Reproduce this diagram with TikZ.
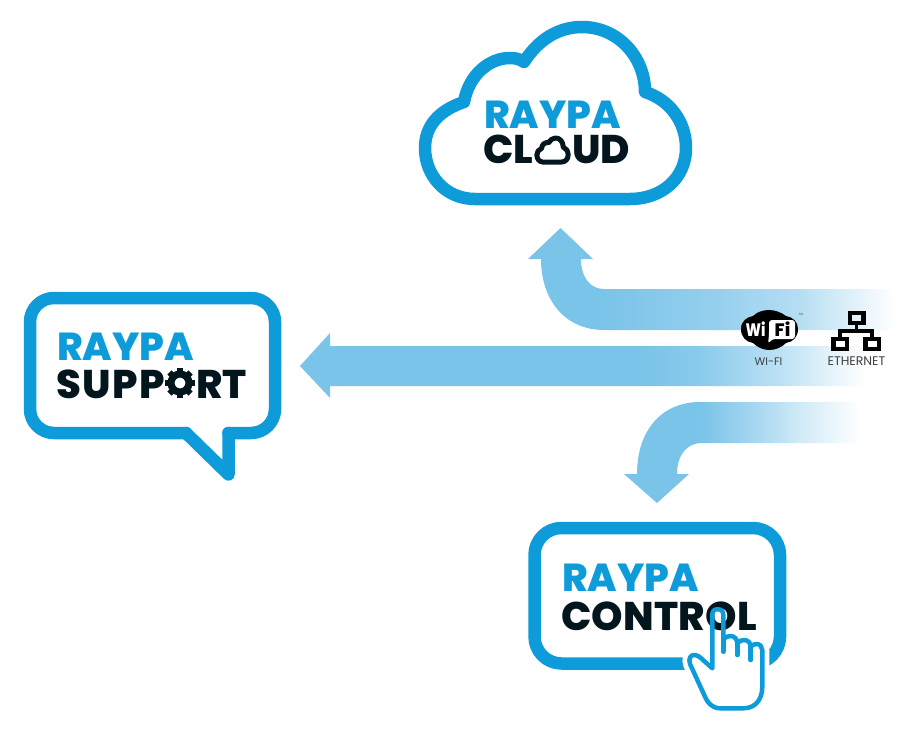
\documentclass[tikz,border=0pt]{standalone}
\usepackage{fontspec}
\setmainfont{Poppins}
\newfontfamily\brandfont{Poppins}[UprightFont=* ExtraBold]
\definecolor{rayblue}{HTML}{0D9BD9}
\definecolor{raydark}{HTML}{03161E}
\definecolor{arrowblue}{HTML}{7AC3E9}
\pgfdeclarehorizontalshading{fadetop}{100bp}{color(0bp)=(arrowblue); color(34.7bp)=(arrowblue); color(50.1bp)=(arrowblue!80!white); color(61.6bp)=(arrowblue!55!white); color(68.3bp)=(arrowblue!25!white); color(74.3bp)=(white); color(100bp)=(white)}
\pgfdeclarehorizontalshading{fademid}{100bp}{color(0bp)=(arrowblue); color(55bp)=(arrowblue); color(60.3bp)=(arrowblue!88!white); color(67.4bp)=(arrowblue!50!white); color(71.8bp)=(arrowblue!20!white); color(75bp)=(white); color(100bp)=(white)}
\pgfdeclarehorizontalshading{fadelow}{100bp}{color(0bp)=(arrowblue); color(41.1bp)=(arrowblue); color(51.7bp)=(arrowblue!70!white); color(62.3bp)=(arrowblue!35!white); color(75bp)=(white); color(100bp)=(white)}
\tikzset{
  brandline/.style={draw=rayblue,line width=12.5pt,line join=round,line cap=round},
  raypa/.style={anchor=base west,text=rayblue,inner sep=0pt,font=\fontsize{39}{44}\brandfont},
  product/.style={anchor=base west,text=raydark,inner sep=0pt,font=\fontsize{40}{44}\brandfont},
  linklabel/.style={text=black!75,inner sep=0pt},
  netbox/.style={draw=black,line width=4.5pt,minimum width=13.5pt,minimum height=10pt,inner sep=0pt,outer sep=0pt},
  handline/.style={draw=rayblue,line width=4.5pt,line join=round,line cap=round}
}
\newcommand{\cloudoutline}{(475,199) .. controls (445,199) and (425,175) .. (425,148)
  .. controls (425,125) and (440,110) .. (464,102)
  .. controls (469,74) and (490,58) .. (510,58)
  .. controls (515,58) and (520,59) .. (524,62)
  .. controls (538,40) and (558,27) .. (582,27)
  .. controls (618,27) and (645,57) .. (645,92)
  .. controls (670,100) and (686,122) .. (686,148)
  .. controls (686,178) and (662,199) .. (630,199) -- cycle}
\newcommand{\handoutline}{(712.3,668.3) -- (712.3,615)
  .. controls (712.3,611) and (714,609.3) .. (717.7,609.3)
  .. controls (721,609.3) and (723.3,611) .. (723.3,615) -- (723.3,639.3)
  .. controls (725,637) and (728,636) .. (730.7,636)
  .. controls (734,636) and (737.3,639) .. (737.3,643.3)
  .. controls (739,641) and (741.5,640) .. (744,640)
  .. controls (748,640) and (750.7,643) .. (750.7,646.7)
  .. controls (752,645) and (754,644) .. (756.7,644)
  .. controls (760,644) and (762.3,647) .. (762.3,650) -- (762.3,686.7)
  .. controls (762.3,696) and (758,708.3) .. (743.3,708.3) -- (720,708.3)
  .. controls (712,708.3) and (707,702) .. (705,696.7) -- (690,664)
  .. controls (688,658) and (691,655) .. (694,655)
  .. controls (698,655) and (701,658) .. (703,660) -- cycle}

\begin{document}
\begin{tikzpicture}[x=1pt,y=-1pt]
\useasboundingbox (0,0) rectangle (901,728);

\coordinate (cloudtip) at (560.5,228);
\coordinate (supporttip) at (300,366);
\coordinate (controltip) at (657,503);
\shade[shading=fadetop] (cloudtip) -- (593,259) -- (581,259) .. controls (581,277) and (590,289) .. (604,289) -- (900,289) -- (900,330) -- (604,330) .. controls (565,330) and (541,300) .. (541,259) -- (528,259) -- cycle;
\shade[shading=fademid] (supporttip) -- (330,333) -- (330,346) -- (866,346) -- (866,386) -- (330,386) -- (330,398) -- cycle;
\shade[shading=fadelow] (controltip) -- (689,474) -- (677,474) .. controls (677,456) and (686,443) .. (702,443) -- (860,443) -- (860,402) -- (700,402) .. controls (662,402) and (637,430) .. (637,474) -- (624,474) -- cycle;

% cloud
\draw[brandline] \cloudoutline;
\node[raypa] (cloudname) at (484,128) {RAYPA};
\node[product] (cloudcl) at (483,163) {CL};
\node[product,anchor=base east] (cloudud) at (630.5,163) {UD};
\begin{scope}[shift={(552.5,150)},xscale=0.12,yscale=0.14,shift={(-555.5,-113)}]
\draw[draw=raydark,line width=5pt,line join=round] \cloudoutline;
\end{scope}

% support
\draw[brandline,rounded corners=24pt] (186,433) -- (30,433) -- (30,298) -- (275,298) -- (275,433) -- (228.5,433);
\draw[brandline] (186,433) -- (228.5,474.5) -- (228.5,433);
\node[raypa] (supportname) at (57,360) {RAYPA};
\node[product] (supportsu) at (56,398.5) {\addfontfeature{LetterSpace=4}SUPP};
\node[product,anchor=base east] (supportrt) at (247,398.5) {RT};
\coordinate (gear) at (180,383);
\draw[raydark,line width=7pt] (gear) circle (9);
\foreach \a in {0,45,...,315}
  \fill[raydark,shift={(gear)},rotate=\a] (-3,-15) rectangle (3,-9);

% control
\node[brandline,rounded corners=27pt,outer sep=0pt,minimum width=245.5pt,minimum height=135.5pt] (controlbox) at (657.25,595.75) {};
\fill[white,draw=white,line width=14pt,line join=round] \handoutline;
\node[raypa] (controlname) at (562,591) {RAYPA};
\node[product] (controlword) at (561,630) {\addfontfeature{LetterSpace=0.7}CONTROL};
\draw[handline] \handoutline;
\draw[handline] (723.3,639.3) -- (723.3,651.7);
\draw[handline] (737.3,643.3) -- (737.3,655);
\draw[handline] (750.7,646.7) -- (750.7,660);

% wifi
\fill[black] (741,329) .. controls (741,321) and (747,317) .. (753,316)
  .. controls (757,312) and (763,310) .. (769,310) .. controls (776,310) and (782,313) .. (786,316)
  .. controls (793,317) and (798,322) .. (798,329) .. controls (798,337) and (793,342) .. (786,343)
  .. controls (782,347) and (776,350) .. (769,350) .. controls (763,350) and (757,347) .. (753,343)
  .. controls (746,342) and (741,337) .. (741,329) -- cycle;
\fill[white,rounded corners=3pt] (769,320) -- (795,320) -- (795,339) -- (772,339) -- (768,344) -- (769,335) -- cycle;
\node[text=white,inner sep=0pt,font=\fontsize{18}{18}\brandfont] (wifiwi) at (755.5,329.5) {\scalebox{0.8}[1]{Wi}};
\node[text=black,inner sep=0pt,font=\fontsize{18}{18}\brandfont] (wififi) at (782.5,329.5) {Fi};
\node[text=black!70,inner sep=0pt,font=\fontsize{3}{3}\selectfont] (wifimark) at (801,314) {TM};
\node[linklabel,font=\fontsize{11}{13}\selectfont] (wifilabel) at (768.5,362) {WI-FI};

% ethernet
\coordinate (netbus) at (856.5,331);
\node[netbox] (nettop) at (856.5,318) {};
\node[netbox] (netleft) at (840,344) {};
\node[netbox] (netright) at (872,344) {};
\draw[black,line width=3.5pt] (nettop) -- (netbus);
\draw[black,line width=3.5pt] (netleft) |- (netbus);
\draw[black,line width=3.5pt] (netright) |- (netbus);
\node[linklabel,font=\fontsize{12.5}{14}\selectfont] (netlabel) at (856.5,361) {ETHERNET};
\end{tikzpicture}
\end{document}
